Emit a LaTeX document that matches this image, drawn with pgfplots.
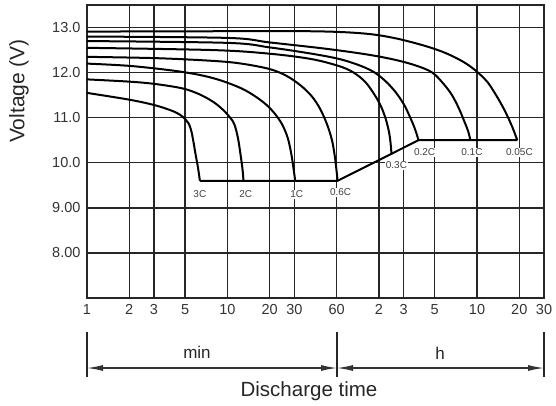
\documentclass[border=0pt]{standalone}
\usepackage{pgfplots}
\pgfplotsset{compat=1.18}
\usepackage{fontspec}
\setmainfont{Liberation Sans}
\usetikzlibrary{arrows.meta}
\begin{document}
\begin{tikzpicture}[x=1pt,y=1pt]
\useasboundingbox (-87,-107) rectangle (469,298);
\begin{axis}[
  at={(0,0)}, anchor=south west,
  scale only axis, width=457pt, height=293pt,
  xmode=log, xmin=1, xmax=1800, ymin=7, ymax=13.5,
  xtick={1,2,3,5,10,20,30,60,120,180,300,600,1200,1800},
  xticklabels={1,2,3,5,10,20,30,60,2,3,5,10,20,30},
  ytick={8,9,10,11,12,13},
  yticklabels={8.00,9.00,10.0,11.0,12.0,13.0},
  minor tick num=0, log basis x=10,
  major tick length=0pt,
  grid=major, grid style={line width=1.3pt, black!85},
  axis line style={line width=1.5pt, black!85},
  tick label style={font=\fontsize{14.5}{16}\selectfont, text=black!80},
  xticklabel style={yshift=-3pt},
  yticklabel style={xshift=-3pt},
  clip=false,
]
\pgfplotsset{cv/.style={line width=2pt, black, line join=round, mark=none, smooth, tension=0.55}}
% cut-off line
\addplot[line width=2pt, black, line join=miter, mark=none] coordinates {(6.37,9.6) (61,9.6) (229.6,10.5) (1161,10.5)};
% 3C
\addplot[cv] coordinates {(1,11.55) (2,11.40) (3.02,11.28) (3.98,11.16) (4.57,11.07) (5.01,10.97) (5.3,10.87) (5.52,10.72) (5.72,10.48) (5.94,10.18) (6.17,9.9) (6.37,9.6)};
% 2C
\addplot[cv] coordinates {(1,11.85) (2,11.8) (3.02,11.75) (4.79,11.65) (6.31,11.52) (7.94,11.35) (9.27,11.18) (10.47,11.0) (11.22,10.85) (11.89,10.55) (12.45,10.15) (12.82,9.85) (13.03,9.6)};
% 1C
\addplot[cv] coordinates {(1,12.2) (2,12.15) (3.98,12.05) (6.31,11.95) (8.91,11.83) (12.59,11.65) (15.85,11.47) (19.05,11.28) (21.88,11.08) (24.55,10.85) (26.92,10.55) (28.51,10.2) (29.51,9.9) (30.41,9.6)};
% 0.6C
\addplot[cv] coordinates {(1,12.35) (3.16,12.32) (7.94,12.26) (12.59,12.2) (19.95,12.08) (26.3,11.93) (33.1,11.72) (39.8,11.48) (45.7,11.2) (51.3,10.85) (55.6,10.5) (58.2,10.15) (59.8,9.85) (61.0,9.6)};
% 0.3C
\addplot[cv] coordinates {(1,12.55) (7.94,12.5) (19.95,12.42) (39.8,12.3) (63.1,12.14) (79.4,12.0) (95.5,11.8) (109.6,11.55) (123,11.28) (133.4,11.0) (141.3,10.7) (145.2,10.45) (147.6,10.19)};
% 0.2C
\addplot[cv] coordinates {(1,12.7) (10,12.66) (19.95,12.56) (39.8,12.42) (63.1,12.3) (89.1,12.15) (112.2,12.0) (134.9,11.8) (158.5,11.56) (182,11.28) (199.5,11.02) (213.8,10.8) (223.9,10.62) (229.6,10.5)};
% 0.1C
\addplot[cv] coordinates {(1,12.8) (10,12.77) (19.95,12.67) (50.1,12.53) (100,12.4) (158.5,12.28) (223.9,12.15) (288.4,12.0) (346.7,11.75) (398.1,11.5) (446.7,11.2) (489.8,10.9) (518.8,10.7) (538.3,10.5)};
% 0.05C
\addplot[cv] coordinates {(1,12.91) (19.95,12.92) (52.5,12.91) (100,12.86) (158.5,12.76) (251.2,12.6) (354.8,12.44) (478.6,12.24) (588.8,12.04) (707.9,11.8) (812.8,11.52) (912,11.25) (1000,11.0) (1084,10.75) (1161,10.5)};

\begin{scope}[every node/.style={fill=white, inner sep=1pt, font=\fontsize{10}{11}\selectfont, text=black!75}]
\node at (axis cs:6.37,9.30) {3C};
\node at (axis cs:13.5,9.30) {2C};
\node at (axis cs:31.2,9.30) {1C};
\node at (axis cs:64,9.34) {0.6C};
\node at (axis cs:160,9.94) {0.3C};
\node at (axis cs:254,10.23) {0.2C};
\node at (axis cs:552,10.23) {0.1C};
\node at (axis cs:1202,10.23) {0.05C};
\end{scope}
\end{axis}
% bottom annotation
\draw[line width=1.5pt, black!85] (0,-34)--(0,-79) (250,-34)--(250,-79) (457,-34)--(457,-79);
\draw[line width=1.3pt, black!80, {Latex[length=16pt,width=6pt]}-{Latex[length=16pt,width=6pt]}] (0,-70) -- (250,-70);
\draw[line width=1.3pt, black!80, {Latex[length=16pt,width=6pt]}-{Latex[length=16pt,width=6pt]}] (250,-70) -- (457,-70);
\node[font=\fontsize{17}{19}\selectfont, text=black!85] at (110,-54) {min};
\node[font=\fontsize{17}{19}\selectfont, text=black!85] at (353,-55) {h};
\node[font=\fontsize{20.5}{22}\selectfont, text=black!85] at (222,-93) {Discharge time};
\node[font=\fontsize{21}{23}\selectfont, text=black!85, rotate=90] at (-68,207) {Voltage (V)};
\end{tikzpicture}
\end{document}
